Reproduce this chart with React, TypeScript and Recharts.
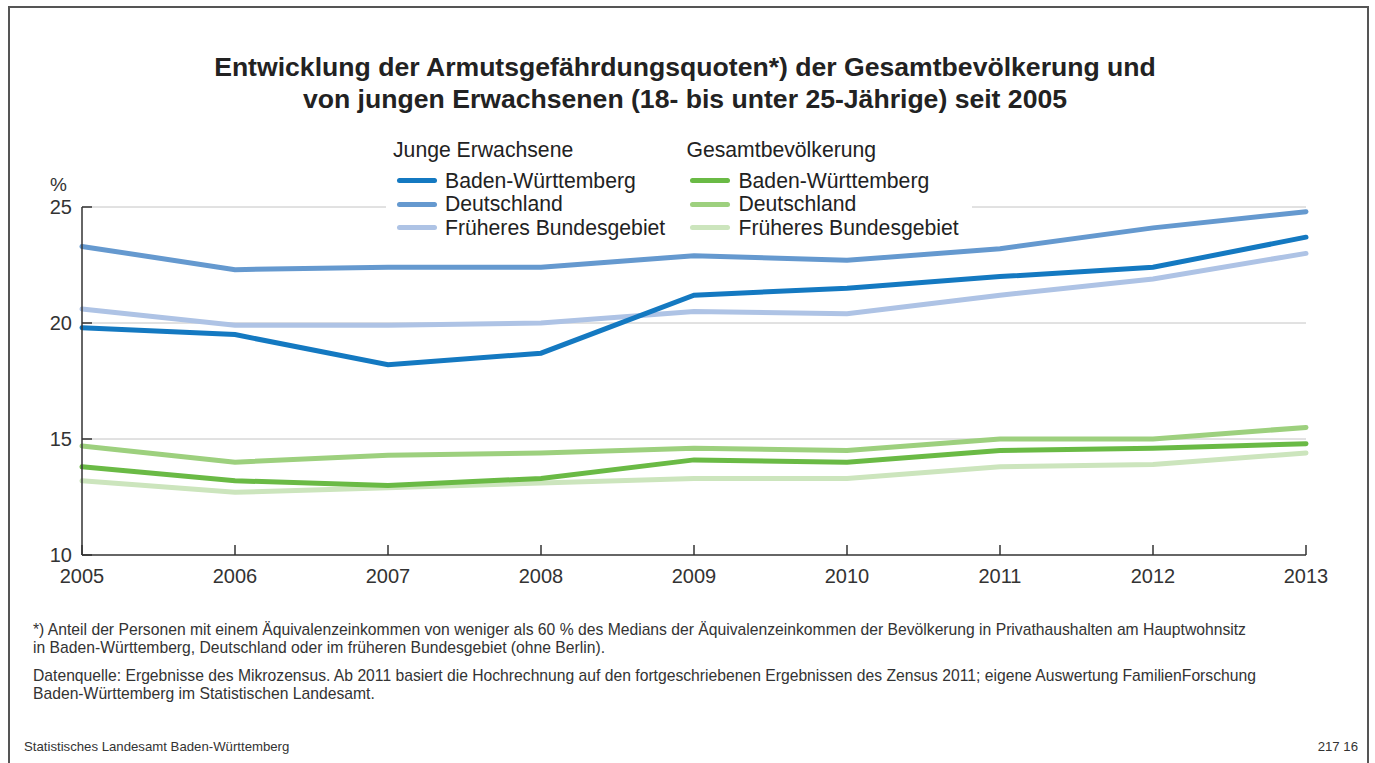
import React from "react";
import { LineChart, Line, XAxis, YAxis, CartesianGrid } from "recharts";

const years = ["2005", "2006", "2007", "2008", "2009", "2010", "2011", "2012", "2013"];
const jungeBW = [19.8, 19.5, 18.2, 18.7, 21.2, 21.5, 22.0, 22.4, 23.7];
const jungeDE = [23.3, 22.3, 22.4, 22.4, 22.9, 22.7, 23.2, 24.1, 24.8];
const jungeFB = [20.6, 19.9, 19.9, 20.0, 20.5, 20.4, 21.2, 21.9, 23.0];
const gesamtBW = [13.8, 13.2, 13.0, 13.3, 14.1, 14.0, 14.5, 14.6, 14.8];
const gesamtDE = [14.7, 14.0, 14.3, 14.4, 14.6, 14.5, 15.0, 15.0, 15.5];
const gesamtFB = [13.2, 12.7, 12.9, 13.1, 13.3, 13.3, 13.8, 13.9, 14.4];
const yTicks = [10, 15, 20, 25];

const colors = {
  jBW: "#1479c1",
  jDE: "#6599cf",
  jFB: "#aec3e5",
  gBW: "#6aba45",
  gDE: "#9dd07e",
  gFB: "#cce5bd",
};

const data = years.map((y, i) => ({
  year: y,
  jBW: jungeBW[i],
  jDE: jungeDE[i],
  jFB: jungeFB[i],
  gBW: gesamtBW[i],
  gDE: gesamtDE[i],
  gFB: gesamtFB[i],
}));

const font = "'Liberation Sans', Arial, sans-serif";

const LegendItem = ({ color, label }: { color: string; label: string }) => (
  <div style={{ display: "flex", alignItems: "center", height: 23.5 }}>
    <div style={{ width: 40, height: 5, borderRadius: 3, background: color, marginRight: 8 }} />
    <span>{label}</span>
  </div>
);

export default function App() {
  return (
    <div style={{ position: "absolute", left: 0, top: 0, width: 1375, height: 763, overflow: "hidden", background: "#fff", fontFamily: font, color: "#222" }}>
      <div style={{ position: "absolute", left: 8, top: 6, width: 1361, height: 820, border: "2px solid #555", boxSizing: "border-box" }} />
      <div style={{ position: "absolute", left: 0, top: 0 }}>
        <LineChart width={1375} height={763} data={data} margin={{ top: 207, right: 69, bottom: 178, left: 22 }}>
          <CartesianGrid horizontal vertical={false} stroke="#c4c4c4" strokeWidth={1} horizontalValues={[15, 20, 25]} />
          <XAxis
            dataKey="year"
            height={30}
            interval={0}
            tickSize={-10}
            tickMargin={24}
            stroke="#333"
            strokeWidth={1.5}
            tick={{ fill: "#333", fontSize: 20, fontFamily: font }}
            padding={{ left: 0, right: 0 }}
          />
          <YAxis
            width={60}
            domain={[10, 25]}
            ticks={yTicks}
            interval={0}
            tickSize={-10}
            tickMargin={20}
            stroke="#333"
            strokeWidth={1.5}
            tick={{ fill: "#333", fontSize: 20, fontFamily: font }}
          />
          <Line dataKey="gFB" stroke={colors.gFB} strokeWidth={5} dot={false} isAnimationActive={false} strokeLinecap="round" />
          <Line dataKey="gDE" stroke={colors.gDE} strokeWidth={5} dot={false} isAnimationActive={false} strokeLinecap="round" />
          <Line dataKey="gBW" stroke={colors.gBW} strokeWidth={5} dot={false} isAnimationActive={false} strokeLinecap="round" />
          <Line dataKey="jFB" stroke={colors.jFB} strokeWidth={5} dot={false} isAnimationActive={false} strokeLinecap="round" />
          <Line dataKey="jDE" stroke={colors.jDE} strokeWidth={5} dot={false} isAnimationActive={false} strokeLinecap="round" />
          <Line dataKey="jBW" stroke={colors.jBW} strokeWidth={5} dot={false} isAnimationActive={false} strokeLinecap="round" />
        </LineChart>
      </div>
      <div style={{ position: "absolute", left: 0, width: 1370, top: 51, textAlign: "center", fontWeight: "bold", fontSize: 26.6, lineHeight: "32px", color: "#222" }}>
        Entwicklung der Armutsgefährdungsquoten*) der Gesamtbevölkerung und
        <br />
        von jungen Erwachsenen (18- bis unter 25-Jährige) seit 2005
      </div>
      <div style={{ position: "absolute", left: 50, top: 174, fontSize: 19, color: "#333" }}>%</div>
      <div style={{ position: "absolute", left: 386, top: 137, width: 586, height: 108, background: "#fff", fontSize: 21.2, color: "#222", display: "flex" }}>
        <div style={{ width: 297, paddingLeft: 7 }}>
          <div style={{ height: 32, lineHeight: "26px" }}>Junge Erwachsene</div>
          <div style={{ paddingLeft: 4 }}>
            <LegendItem color={colors.jBW} label="Baden-Württemberg" />
            <LegendItem color={colors.jDE} label="Deutschland" />
            <LegendItem color={colors.jFB} label="Früheres Bundesgebiet" />
          </div>
        </div>
        <div style={{ width: 289 }}>
          <div style={{ height: 32, lineHeight: "26px" }}>Gesamtbevölkerung</div>
          <div style={{ paddingLeft: 4 }}>
            <LegendItem color={colors.gBW} label="Baden-Württemberg" />
            <LegendItem color={colors.gDE} label="Deutschland" />
            <LegendItem color={colors.gFB} label="Früheres Bundesgebiet" />
          </div>
        </div>
      </div>
      <div style={{ position: "absolute", left: 33, top: 621, fontSize: 15.7, lineHeight: "18px", color: "#333", whiteSpace: "nowrap" }}>
        *) Anteil der Personen mit einem Äquivalenzeinkommen von weniger als 60 % des Medians der Äquivalenzeinkommen der Bevölkerung in Privathaushalten am Hauptwohnsitz
        <br />
        in Baden-Württemberg, Deutschland oder im früheren Bundesgebiet (ohne Berlin).
      </div>
      <div style={{ position: "absolute", left: 33, top: 667, fontSize: 15.7, lineHeight: "18px", color: "#333", whiteSpace: "nowrap" }}>
        Datenquelle: Ergebnisse des Mikrozensus. Ab 2011 basiert die Hochrechnung auf den fortgeschriebenen Ergebnissen des Zensus 2011; eigene Auswertung FamilienForschung
        <br />
        Baden-Württemberg im Statistischen Landesamt.
      </div>
      <div style={{ position: "absolute", left: 24, top: 739, fontSize: 13.2, color: "#333" }}>Statistisches Landesamt Baden-Württemberg</div>
      <div style={{ position: "absolute", right: 17, top: 739, fontSize: 13.2, color: "#333" }}>217 16</div>
    </div>
  );
}
